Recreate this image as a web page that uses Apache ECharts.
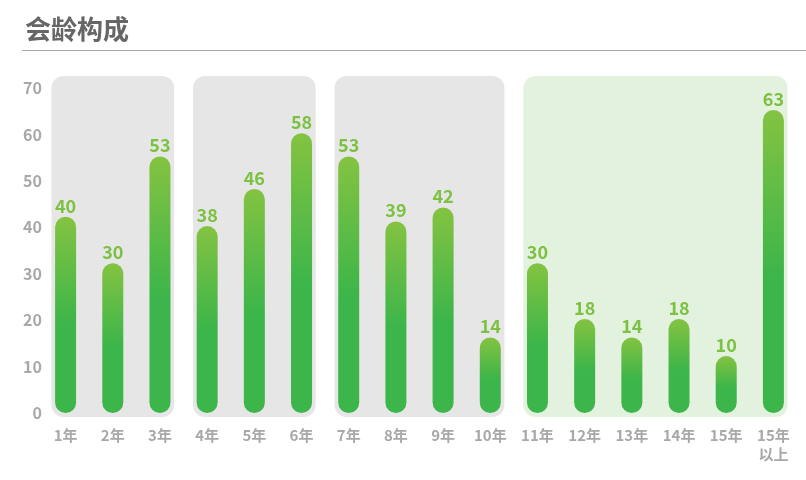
<!DOCTYPE html>
<html>
<head>
<meta charset="utf-8">
<script src="https://cdn.jsdelivr.net/npm/echarts@6/dist/echarts.min.js"></script>
<style>html,body{margin:0;padding:0;background:#fff}#c{width:806px;height:480px}</style>
</head>
<body>
<div id="c"></div>
<script>
const categories = ['1年','2年','3年','4年','5年','6年','7年','8年','9年','10年','11年','12年','13年','14年','15年','15年\n以上'];
const values = [40,30,53,38,46,58,53,39,42,14,30,18,14,18,10,63];
const yTicks = [0,10,20,30,40,50,60,70];
// background groups: [start index, end index, style index]
const groups = [[0,2,0],[3,5,0],[6,9,0],[10,15,1]];

const FONT = '"Noto Sans CJK SC", "Noto Sans", sans-serif';
const chart = echarts.init(document.getElementById('c'));
const bgColors = ['#e6e6e6', '#e3f1df'];

chart.setOption({
  animation: false,
  title: {
    text: '会龄构成', left: 20, top: 11,
    textStyle: { fontFamily: FONT, fontSize: 26, fontWeight: 'bold', color: '#666666' }
  },
  graphic: [{
    type: 'line', shape: { x1: 22, y1: 50.5, x2: 806, y2: 50.5 },
    style: { stroke: '#a8a8a8', lineWidth: 1 }
  }],
  grid: { left: 42, right: 9, top: 88, bottom: 67 },
  xAxis: {
    type: 'category', data: categories,
    axisLine: { show: false }, axisTick: { show: false },
    axisLabel: { color: '#a8a8a8', fontFamily: FONT, fontSize: 15, fontWeight: 'bold', margin: 13, lineHeight: 19 }
  },
  yAxis: {
    type: 'value', min: yTicks[0], max: yTicks[yTicks.length - 1], interval: 10,
    splitLine: { show: false }, axisLine: { show: false }, axisTick: { show: false },
    axisLabel: { color: '#a8a8a8', fontFamily: FONT, fontSize: 16, fontWeight: 'bold', margin: 0 }
  },
  series: [
    {
      type: 'custom', silent: true, clip: false,
      data: groups, encode: { x: [0, 1] },
      renderItem: function (params, api) {
        const s = api.value(0), e = api.value(1), k = api.value(2);
        const band = api.size([1, 0])[0];
        const pad = band * 0.3;
        const pTop = api.coord([s, yTicks[yTicks.length - 1]]);
        const pBot = api.coord([e, 0]);
        const x0 = pTop[0] - pad, x1 = pBot[0] + pad;
        const y0 = pTop[1] - 12, y1 = pBot[1] + 4;
        return { type: 'rect', shape: { x: x0, y: y0, width: x1 - x0, height: y1 - y0, r: 12 },
          style: { fill: bgColors[k] } };
      }
    },
    {
      type: 'custom', clip: false,
      data: values.map((v, i) => [i, v]), encode: { x: 0, y: 1 },
      renderItem: function (params, api) {
        const i = api.value(0), v = api.value(1);
        const top = api.coord([i, v]);
        const base = api.coord([i, 0]);
        const w = 21, r = w / 2;
        const y0 = top[1] - r;
        return {
          type: 'group',
          children: [
            { type: 'rect', shape: { x: top[0] - r, y: y0, width: w, height: base[1] - y0, r: r },
              style: { fill: { type: 'linear', x: 0, y: 0, x2: 0, y2: 1,
                colorStops: [{ offset: 0, color: '#84c341' }, { offset: 0.55, color: '#3cb54a' }, { offset: 1, color: '#3cb54a' }] } } },
            { type: 'text', style: { text: String(v), x: top[0], y: y0 - 2, align: 'center', verticalAlign: 'bottom',
                fill: '#7dc142', fontFamily: FONT, fontSize: 18, fontWeight: 'bold' } }
          ]
        };
      }
    }
  ]
});
</script>
</body>
</html>
